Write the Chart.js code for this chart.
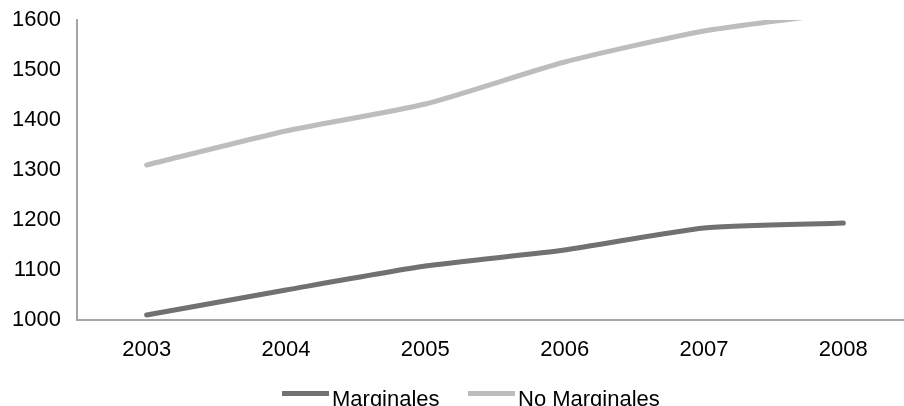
<!DOCTYPE html>
<html>
<head>
<meta charset="utf-8">
<script src="https://cdn.jsdelivr.net/npm/chart.js@4/dist/chart.umd.min.js"></script>
<style>
  html, body { margin: 0; padding: 0; background: #fff; overflow: hidden; }
  #wrap { position: relative; width: 913px; height: 406px; }
</style>
</head>
<body>
<div id="wrap"><canvas id="c"></canvas></div>
<script>
const years = ['2003', '2004', '2005', '2006', '2007', '2008'];
const marginales = [1010, 1060, 1108, 1140, 1184, 1194];
const noMarginales = [1310, 1378, 1432, 1516, 1578, 1615];
const yTicks = [1000, 1100, 1200, 1300, 1400, 1500, 1600];

const FONT = '"Liberation Sans", Arial, Helvetica, sans-serif';

// Legend drawn as line swatches with the label right beside them
const lineLegend = {
  id: 'lineLegend',
  afterDraw(chart) {
    const ctx = chart.ctx;
    const items = [
      { x: 282, ds: chart.data.datasets[0] },
      { x: 468, ds: chart.data.datasets[1] }
    ];
    ctx.save();
    ctx.font = '22px ' + FONT;
    ctx.textBaseline = 'alphabetic';
    ctx.textAlign = 'left';
    items.forEach(it => {
      ctx.fillStyle = it.ds.borderColor;
      ctx.fillRect(it.x, 391, 47, 5);
      ctx.fillStyle = '#000';
      ctx.fillText(it.ds.label, it.x + 50, 406);
    });
    ctx.restore();
  }
};

new Chart(document.getElementById('c'), {
  type: 'line',
  data: {
    labels: years,
    datasets: [
      {
        label: 'Marginales',
        data: marginales,
        borderColor: '#717171',
        backgroundColor: '#717171',
        borderWidth: 5,
        borderCapStyle: 'round',
        pointRadius: 0,
        tension: 0.2,
        clip: 0
      },
      {
        label: 'No Marginales',
        data: noMarginales,
        borderColor: '#bdbdbd',
        backgroundColor: '#bdbdbd',
        borderWidth: 5,
        borderCapStyle: 'round',
        pointRadius: 0,
        tension: 0.2,
        clip: 0
      }
    ]
  },
  options: {
    responsive: true,
    maintainAspectRatio: false,
    animation: false,
    layout: { padding: { top: 20, right: 0, bottom: 36, left: 0 } },
    plugins: {
      legend: { display: false },
      tooltip: { enabled: false }
    },
    scales: {
      x: {
        offset: true,
        grid: { display: false, drawTicks: false },
        border: { display: true, color: '#a6a6a6', width: 2 },
        ticks: { color: '#000', font: { family: FONT, size: 22 }, padding: 17, maxRotation: 0 },
        afterFit: s => { s.height = 50; s.paddingLeft = 0; s.paddingRight = 0; }
      },
      y: {
        min: 1000,
        max: 1600,
        afterBuildTicks: s => { s.ticks = yTicks.map(v => ({ value: v })); },
        grid: { display: false, drawTicks: false },
        border: { display: true, color: '#a6a6a6', width: 2 },
        ticks: {
          color: '#000',
          font: { family: FONT, size: 22 },
          padding: 16,
          callback: v => String(v)
        },
        afterFit: s => { s.width = 77; s.paddingTop = 0; s.paddingBottom = 0; }
      }
    }
  },
  plugins: [lineLegend]
});
</script>
</body>
</html>
